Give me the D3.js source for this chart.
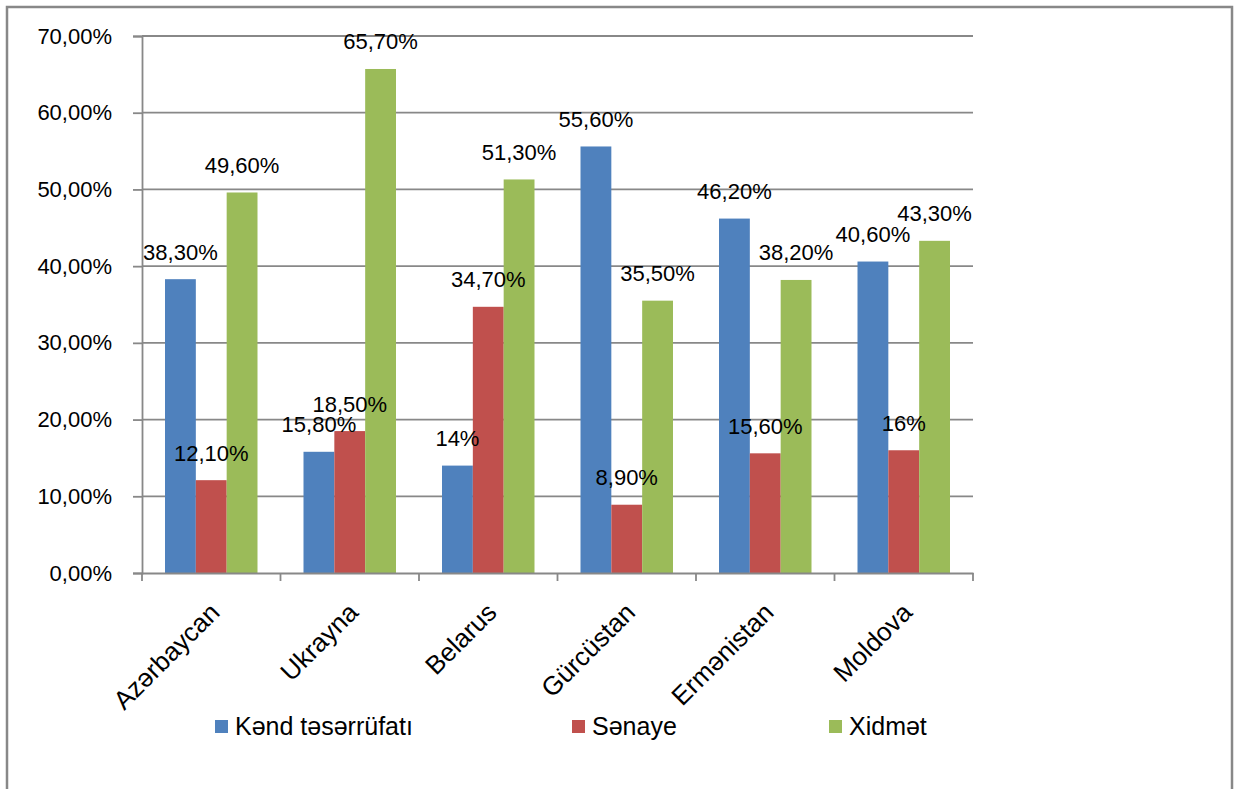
<!DOCTYPE html>
<html>
<head>
<meta charset="utf-8">
<script src="https://cdn.jsdelivr.net/npm/d3@7"></script>
<style>
  body { margin: 0; background: #fff; }
  text { font-family: "Liberation Sans", Arial, sans-serif; fill: #000; }
</style>
</head>
<body>
<div id="chart"></div>
<script>
var categories = ["Azərbaycan", "Ukrayna", "Belarus", "Gürcüstan", "Ermənistan", "Moldova"];
var seriesNames = ["Kənd təsərrüfatı", "Sənaye", "Xidmət"];
var kend = [38.3, 15.8, 14, 55.6, 46.2, 40.6];
var senaye = [12.1, 18.5, 34.7, 8.9, 15.6, 16];
var xidmet = [49.6, 65.7, 51.3, 35.5, 38.2, 43.3];
var yTicks = [0, 10, 20, 30, 40, 50, 60, 70];
var colors = ["#4F81BD", "#C0504D", "#9BBB59"];

var seriesValues = [kend, senaye, xidmet];

var width = 1234, height = 789;
var svg = d3.select("#chart").append("svg")
  .attr("width", width)
  .attr("height", height);

// outer chart frame
svg.append("rect")
  .attr("x", 7).attr("y", 7)
  .attr("width", 1225).attr("height", 820)
  .attr("fill", "none")
  .attr("stroke", "#888")
  .attr("stroke-width", 2.5);

var x = d3.scaleBand().domain(categories).range([142, 973]);
var xs = d3.scaleBand().domain(d3.range(3)).range([23, x.bandwidth() - 23]);
var y = d3.scaleLinear().domain([0, 70]).range([573, 36]);

function fmtTick(v) {
  return v.toFixed(2).replace(".", ",") + "%";
}
function fmtLabel(v) {
  return Number.isInteger(v) ? v + "%" : v.toFixed(2).replace(".", ",") + "%";
}

// gridlines
svg.append("g")
  .selectAll("line")
  .data(yTicks.slice(1))
  .join("line")
  .attr("x1", 142).attr("x2", 973)
  .attr("y1", function(d) { return y(d); })
  .attr("y2", function(d) { return y(d); })
  .attr("stroke", "#888")
  .attr("stroke-width", 1.8);

// y axis
var yAxis = svg.append("g")
  .attr("transform", "translate(142,0)")
  .call(d3.axisLeft(y).tickValues(yTicks).tickFormat(fmtTick).tickSize(9).tickPadding(21));
yAxis.select(".domain").attr("stroke", "#888").attr("stroke-width", 1.8);
yAxis.selectAll(".tick line").attr("stroke", "#888").attr("stroke-width", 1.8);
yAxis.selectAll(".tick text")
  .style("font-family", "'Liberation Sans', Arial, sans-serif")
  .style("font-size", "22px")
  .attr("fill", "#000");

// bars
var groups = svg.append("g")
  .selectAll("g")
  .data(categories)
  .join("g")
  .attr("transform", function(d) { return "translate(" + x(d) + ",0)"; });

groups.selectAll("rect")
  .data(function(d, i) { return seriesValues.map(function(s, k) { return { k: k, v: s[i] }; }); })
  .join("rect")
  .attr("x", function(d) { return xs(d.k); })
  .attr("width", xs.bandwidth())
  .attr("y", function(d) { return y(d.v); })
  .attr("height", function(d) { return y(0) - y(d.v); })
  .attr("fill", function(d) { return colors[d.k]; });

// x axis (drawn over bar bottoms)
var xAxis = svg.append("g")
  .attr("transform", "translate(0,573)")
  .call(d3.axisBottom(x).tickSize(0).tickFormat(""));
xAxis.select(".domain").attr("stroke", "#888").attr("stroke-width", 1.8);
svg.append("g")
  .selectAll("line")
  .data(d3.range(categories.length + 1))
  .join("line")
  .attr("x1", function(i) { return x.range()[0] + i * x.step(); })
  .attr("x2", function(i) { return x.range()[0] + i * x.step(); })
  .attr("y1", 573).attr("y2", 581)
  .attr("stroke", "#888")
  .attr("stroke-width", 1.8);

// category labels rotated
svg.append("g")
  .selectAll("text")
  .data(categories)
  .join("text")
  .attr("text-anchor", "end")
  .attr("transform", function(d) {
    return "translate(" + (x(d) + x.bandwidth() / 2 + 10) + ",614) rotate(-45)";
  })
  .style("font-size", "26px")
  .text(function(d) { return d; });

// data labels
groups.selectAll("text")
  .data(function(d, i) { return seriesValues.map(function(s, k) { return { k: k, v: s[i] }; }); })
  .join("text")
  .attr("x", function(d) { return xs(d.k) + xs.bandwidth() / 2; })
  .attr("y", function(d) { return y(d.v) - 27; })
  .attr("text-anchor", "middle")
  .attr("dominant-baseline", "central")
  .style("font-size", "22px")
  .text(function(d) { return fmtLabel(d.v); });

// legend
var legendX = [215, 572, 829];
var legend = svg.append("g")
  .selectAll("g")
  .data(seriesNames)
  .join("g")
  .attr("transform", function(d, i) { return "translate(" + legendX[i] + ",720)"; });
legend.append("rect")
  .attr("width", 13).attr("height", 13)
  .attr("fill", function(d, i) { return colors[i]; });
legend.append("text")
  .attr("x", 20)
  .attr("y", 15)
  .style("font-size", "25px")
  .text(function(d) { return d; });
</script>
</body>
</html>
